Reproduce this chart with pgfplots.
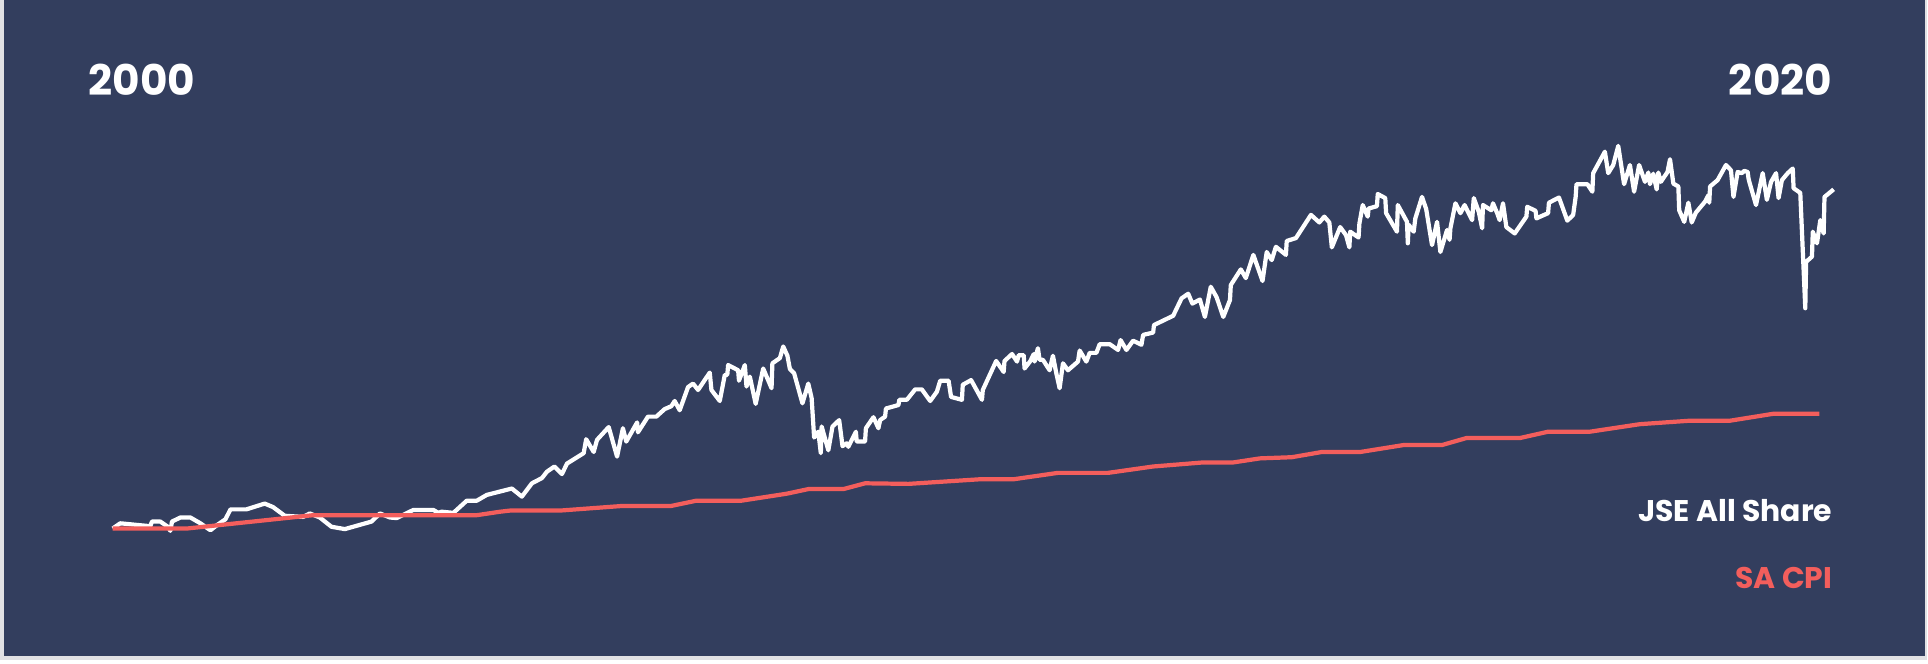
\documentclass[border=0pt]{standalone}
\usepackage{pgfplots}
\pgfplotsset{compat=1.18}
\usepackage{pgfplotstable}
\usepackage{fontspec}
\setmainfont{Poppins}
\newfontfamily\yearfont{Poppins}

\definecolor{panel}{RGB}{51,62,94}
\definecolor{cpired}{RGB}{243,94,92}
\definecolor{edge}{RGB}{225,225,228}

% JSE All Share and SA CPI, both rebased to 100 at the start of 2000
\pgfplotstableread{
year idx
2000.00 100
2000.09 109
2000.45 104
2000.47 112
2000.57 112
2000.66 103
2000.69 96
2000.71 112
2000.81 119
2000.93 119
2001.05 109
2001.17 97
2001.25 106
2001.35 116
2001.41 133
2001.60 133
2001.82 143
2001.92 137
2002.06 122
2002.28 120
2002.36 126
2002.48 119
2002.62 103
2002.78 99
2003.10 112
2003.20 126
2003.32 119
2003.40 118
2003.60 132
2003.84 132
2003.90 127
2003.94 129
2004.08 127
2004.24 148
2004.36 148
2004.48 158
2004.78 169
2004.90 155
2005.02 178
2005.14 187
2005.20 198
2005.29 207
2005.38 194
2005.44 212
2005.64 230
2005.67 254
2005.76 232
2005.80 253
2005.94 275
2006.04 224
2006.11 273
2006.15 250
2006.28 283
2006.29 266
2006.41 293
2006.51 293
2006.61 306
2006.69 311
2006.73 320
2006.79 304
2006.89 344
2006.95 350
2007.01 339
2007.15 369
2007.17 339
2007.27 320
2007.33 365
2007.36 365
2007.37 382
2007.49 373
2007.50 355
2007.57 382
2007.59 345
2007.63 362
2007.70 315
2007.79 376
2007.89 342
2007.90 385
2007.99 394
2008.03 414
2008.08 398
2008.11 375
2008.16 368
2008.26 316
2008.33 350
2008.37 325
2008.40 257
2008.45 267
2008.48 230
2008.49 276
2008.57 235
2008.62 276
2008.70 287
2008.74 242
2008.79 247
2008.81 241
2008.90 267
2008.91 250
2009.01 250
2009.02 273
2009.11 292
2009.17 273
2009.19 287
2009.25 293
2009.26 307
2009.41 313
2009.42 322
2009.51 322
2009.61 340
2009.69 340
2009.79 320
2009.87 336
2009.91 355
2010.01 355
2010.04 327
2010.17 322
2010.18 348
2010.28 356
2010.41 322
2010.42 339
2010.58 389
2010.67 370
2010.68 389
2010.77 401
2010.83 388
2010.85 399
2010.91 399
2010.92 376
2010.99 389
2011.03 401
2011.04 388
2011.08 411
2011.10 391
2011.14 391
2011.22 373
2011.26 398
2011.30 368
2011.34 342
2011.38 385
2011.44 373
2011.56 388
2011.58 407
2011.66 388
2011.70 403
2011.78 403
2011.82 418
2011.94 418
2012.04 408
2012.07 425
2012.14 408
2012.22 424
2012.32 417
2012.34 434
2012.46 438
2012.47 451
2012.70 467
2012.80 497
2012.88 505
2012.93 488
2013.02 495
2013.08 465
2013.15 517
2013.22 499
2013.30 465
2013.38 494
2013.39 520
2013.51 547
2013.57 532
2013.66 572
2013.77 527
2013.82 577
2013.88 563
2013.93 586
2014.05 572
2014.06 596
2014.17 601
2014.35 641
2014.45 628
2014.51 638
2014.57 628
2014.60 585
2014.70 620
2014.77 606
2014.81 585
2014.82 612
2014.92 602
2014.93 626
2014.97 658
2015.03 638
2015.04 652
2015.14 656
2015.15 677
2015.24 670
2015.25 644
2015.38 612
2015.39 658
2015.50 629
2015.51 592
2015.52 624
2015.58 612
2015.60 635
2015.68 672
2015.73 651
2015.80 589
2015.86 629
2015.90 577
2015.98 615
2016.01 598
2016.02 618
2016.08 661
2016.14 644
2016.19 658
2016.28 632
2016.30 670
2016.36 646
2016.40 618
2016.41 658
2016.51 649
2016.53 661
2016.58 644
2016.61 632
2016.65 661
2016.69 620
2016.79 609
2016.93 638
2016.94 655
2017.04 648
2017.05 635
2017.19 644
2017.20 662
2017.32 671
2017.42 631
2017.49 641
2017.52 672
2017.53 694
2017.66 694
2017.72 681
2017.73 713
2017.87 750
2017.91 713
2017.97 727
2018.03 760
2018.10 694
2018.17 727
2018.22 681
2018.28 727
2018.35 698
2018.39 714
2018.41 694
2018.45 712
2018.49 685
2018.51 714
2018.54 698
2018.62 715
2018.65 737
2018.69 695
2018.75 690
2018.76 649
2018.82 629
2018.87 662
2018.91 628
2018.96 645
2019.07 664
2019.11 675
2019.12 662
2019.13 690
2019.22 701
2019.32 727
2019.38 718
2019.41 672
2019.46 715
2019.51 713
2019.54 717
2019.58 715
2019.59 704
2019.60 698
2019.68 658
2019.76 713
2019.81 667
2019.86 698
2019.92 713
2019.95 670
2019.99 701
2020.06 713
2020.12 721
2020.13 687
2020.21 679
2020.27 480
2020.28 560
2020.35 569
2020.36 612
2020.41 592
2020.45 632
2020.49 609
2020.50 672
2020.61 685
}\jse

\pgfplotstableread{
year idx
2000.00 100
2000.89 100
2002.40 123
2004.36 123
2004.64 129
2004.76 131
2005.36 131
2006.11 139
2006.69 139
2006.99 148
2007.53 148
2008.07 160
2008.33 168
2008.75 168
2009.01 178
2009.53 177
2010.39 185
2010.79 185
2011.32 196
2011.92 196
2012.46 207
2013.06 214
2013.42 214
2013.74 221
2014.12 223
2014.48 232
2014.94 232
2015.46 244
2015.92 244
2016.21 256
2016.85 256
2017.19 267
2017.69 267
2018.29 280
2018.89 286
2019.37 286
2019.89 298
2020.44 298
}\cpi

\begin{document}
\begin{tikzpicture}
\begin{axis}[
    scale only axis,
    width=19.28cm, height=6.64cm,
    xmin=1998.650, xmax=2021.740,
    ymin=-133.7, ymax=1011.7,
    hide axis,
    clip=false,
]
% page and dark panel
\fill[white] (rel axis cs:0,0) rectangle (rel axis cs:1,1);
\fill[edge] (rel axis cs:0,0.006) rectangle (rel axis cs:0.9995,1);
\fill[panel] (rel axis cs:0.0021,0.0121) rectangle (rel axis cs:0.9984,1);

\addplot[white, line width=1.2pt, line join=round] table[x=year, y=idx] {\jse};
\addplot[cpired, line width=1.2pt, line join=round] table[x=year, y=idx] {\cpi};

\node[anchor=base west, inner sep=0pt, text=white, font=\yearfont\bfseries\fontsize{12}{13}\selectfont]
    at (rel axis cs:0.0456,0.8569) {2000};
\node[anchor=base east, inner sep=0pt, text=white, font=\yearfont\bfseries\fontsize{12}{13}\selectfont]
    at (rel axis cs:0.9506,0.8569) {2020};
\node[anchor=base east, inner sep=0pt, text=white, font=\bfseries\fontsize{8.5}{9}\selectfont]
    at (rel axis cs:0.9507,0.2143) {JSE All Share};
\node[anchor=base east, inner sep=0pt, text=cpired, font=\bfseries\fontsize{8.5}{9}\selectfont]
    at (rel axis cs:0.9507,0.1130) {SA CPI};
\end{axis}
\end{tikzpicture}
\end{document}
